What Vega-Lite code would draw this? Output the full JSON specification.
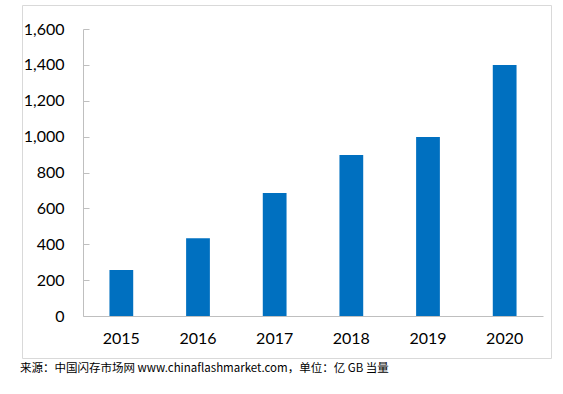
{
  "$schema": "https://vega.github.io/schema/vega-lite/v6.json",
  "autosize": "none",
  "width": 529,
  "height": 353,
  "padding": {"left": 22, "top": 5, "right": 12, "bottom": 36},
  "background": "white",
  "config": {
    "view": {"stroke": "#d9d9d9", "strokeWidth": 1},
    "font": "Lato"
  },
  "title": {
    "text": "来源：中国闪存市场网 www.chinaflashmarket.com，单位：亿 GB 当量",
    "orient": "bottom",
    "anchor": "start",
    "frame": "group",
    "font": "Noto Sans CJK SC",
    "fontSize": 11.5,
    "fontWeight": "normal",
    "color": "#000000",
    "offset": 5,
    "dx": -2
  },
  "data": {
    "values": [
      {"year": "2015", "value": 256},
      {"year": "2016", "value": 433},
      {"year": "2017", "value": 686},
      {"year": "2018", "value": 897},
      {"year": "2019", "value": 998},
      {"year": "2020", "value": 1399}
    ]
  },
  "mark": {"type": "bar", "color": "#0070c0"},
  "encoding": {
    "x": {
      "field": "year",
      "type": "ordinal",
      "scale": {"range": [61, 521], "paddingInner": 0.69, "paddingOuter": 0.345},
      "axis": {
        "title": null,
        "orient": "bottom",
        "offset": -42,
        "ticks": false,
        "domainColor": "#bfbfbf",
        "labelAngle": 0,
        "labelFont": "Lato",
        "labelFontSize": 16,
        "labelColor": "#000000",
        "labelPadding": 14
      }
    },
    "y": {
      "field": "value",
      "type": "quantitative",
      "scale": {"domain": [0, 1600], "nice": false, "range": [311, 24]},
      "axis": {
        "title": null,
        "orient": "left",
        "offset": -61,
        "values": [0, 200, 400, 600, 800, 1000, 1200, 1400, 1600],
        "format": ",.0f",
        "grid": false,
        "domainColor": "#bfbfbf",
        "tickColor": "#bfbfbf",
        "tickSize": -6,
        "labelFont": "Lato",
        "labelFontSize": 16,
        "labelColor": "#000000",
        "labelPadding": 25
      }
    }
  }
}
